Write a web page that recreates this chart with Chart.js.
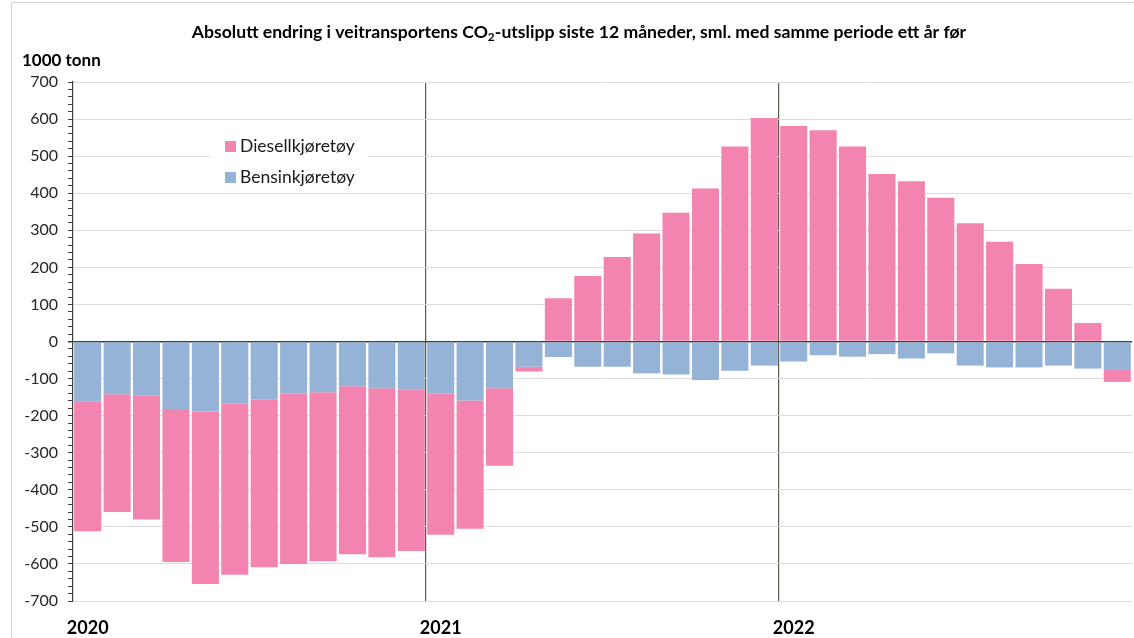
<!DOCTYPE html>
<html lang="no">
<head>
<meta charset="UTF-8">
<title>Endring i CO2-utslipp fra veitransport</title>
<script src="https://cdn.jsdelivr.net/npm/chart.js"></script>
<style>
  html, body { margin: 0; padding: 0; background: #fff; }
  .wrap { position: relative; width: 1134px; height: 638px; overflow: hidden; }
  .frame { position: absolute; left: 11px; top: 2px; width: 2000px; height: 2000px;
           border-left: 1px solid #d4d4d4; border-top: 1px solid #d4d4d4; }
  canvas { position: absolute; left: 0; top: 0; }
</style>
</head>
<body>
<div class="wrap">
  <div class="frame"></div>
  <canvas id="chart" width="1134" height="638"></canvas>
</div>
<script>
// månedene jan 2020 - des 2022
const months = [
  '2020-01','2020-02','2020-03','2020-04','2020-05','2020-06','2020-07','2020-08','2020-09','2020-10','2020-11','2020-12',
  '2021-01','2021-02','2021-03','2021-04','2021-05','2021-06','2021-07','2021-08','2021-09','2021-10','2021-11','2021-12',
  '2022-01','2022-02','2022-03','2022-04','2022-05','2022-06','2022-07','2022-08','2022-09','2022-10','2022-11','2022-12'
];

// 1000 tonn
const bensin = [
  -161, -142, -145, -182, -189, -168, -157, -141, -137, -121, -126, -130,
  -140, -159, -126,  -68,  -42,  -68,  -68,  -86,  -89, -104,  -79,  -65,
   -54,  -37,  -41,  -34,  -46,  -32,  -65,  -70,  -70,  -65,  -73,  -77
];
const diesel = [
  -351, -318, -335, -413, -465, -461, -452, -459, -456, -453, -456, -435,
  -381, -346, -209,  -13,  117,  177,  228,  291,  347,  413,  526,  603,
   581,  570,  526,  452,  432,  388,  319,  269,  209,  142,   50,  -32
];

const yMin = -700;
const yMax = 700;

const title = 'Absolutt endring i veitransportens CO';
const titleSub = '2';
const titleRest = '-utslipp siste 12 måneder, sml. med samme periode ett år før';
const unitLabel = '1000 tonn';

const FONT = 'Lato, "Open Sans", sans-serif';

// tittel, enhet og legende tegnes her
const extras = {
  id: 'extras',
  afterDraw(chart) {
    const c = chart.ctx;
    c.save();
    c.fillStyle = '#000';
    c.textBaseline = 'middle';

    // tittel med senket 2
    c.font = 'bold 17.6px ' + FONT;
    const w1 = c.measureText(title).width;
    const w3 = c.measureText(titleRest).width;
    c.font = 'bold 12px ' + FONT;
    const w2 = c.measureText(titleSub).width;
    let x = 579 - (w1 + w2 + w3) / 2;
    const y = 32;
    c.textAlign = 'left';
    c.font = 'bold 17.6px ' + FONT;
    c.fillText(title, x, y);
    x += w1;
    c.font = 'bold 12px ' + FONT;
    c.fillText(titleSub, x, y + 5);
    x += w2;
    c.font = 'bold 17.6px ' + FONT;
    c.fillText(titleRest, x, y);

    c.font = 'bold 17px ' + FONT;
    c.fillText(unitLabel, 22, 61);

    // legende inne i plottet
    c.fillStyle = '#fff';
    c.fillRect(210, 131, 158, 60);
    const items = [1, 0];
    items.forEach((di, k) => {
      const ds = chart.data.datasets[di];
      const ly = 146 + k * 31;
      c.fillStyle = ds.backgroundColor;
      c.fillRect(225, ly - 5, 11, 11);
      c.fillStyle = '#1a1a1a';
      c.font = '17.5px ' + FONT;
      c.fillText(ds.label, 240, ly);
    });
    c.restore();
  }
};

new Chart(document.getElementById('chart'), {
  type: 'bar',
  data: {
    labels: months,
    datasets: [
      { label: 'Bensinkjøretøy', data: bensin, backgroundColor: '#95b3d7', borderWidth: 0 },
      { label: 'Diesellkjøretøy', data: diesel, backgroundColor: '#f384af', borderWidth: 0 }
    ]
  },
  options: {
    responsive: false,
    animation: false,
    layout: { padding: { top: 82, right: 2, left: 0, bottom: 0 } },
    plugins: {
      legend: { display: false },
      title: { display: false },
      tooltip: { enabled: false }
    },
    datasets: {
      bar: { categoryPercentage: 1.0, barPercentage: 0.92 }
    },
    scales: {
      x: {
        stacked: true,
        afterFit(scale) { scale.height = 37; },
        border: { display: false },
        grid: {
          offset: true,
          drawTicks: false,
          lineWidth: 1.2,
          color: ctx => (ctx.index > 0 && ctx.index % 12 === 0) ? '#5a5a4e' : 'rgba(0,0,0,0)'
        },
        ticks: {
          autoSkip: false,
          maxRotation: 0,
          padding: 16,
          color: '#000',
          font: { family: FONT, size: 18, weight: 'bold' },
          callback: (val, i) => i % 12 === 0 ? months[i].slice(0, 4) : ''
        }
      },
      y: {
        stacked: true,
        min: yMin,
        max: yMax,
        afterFit(scale) { scale.width = 73; },
        border: { display: true, color: '#404040', width: 1.2 },
        grid: {
          drawTicks: true,
          tickLength: 5,
          tickColor: '#404040',
          lineWidth: ctx => ctx.tick && ctx.tick.value === 0 ? 1.5 : 1,
          color: ctx => {
            const v = ctx.tick ? ctx.tick.value : 1;
            if (v === 0) return '#404040';
            return v % 100 === 0 ? '#dcdcdc' : 'rgba(0,0,0,0)';
          }
        },
        ticks: {
          stepSize: 20,
          autoSkip: false,
          padding: 10,
          color: '#262626',
          font: { family: FONT, size: 16 },
          callback: v => v % 100 === 0 ? String(v) : ''
        }
      }
    }
  },
  plugins: [extras]
});
</script>
</body>
</html>
